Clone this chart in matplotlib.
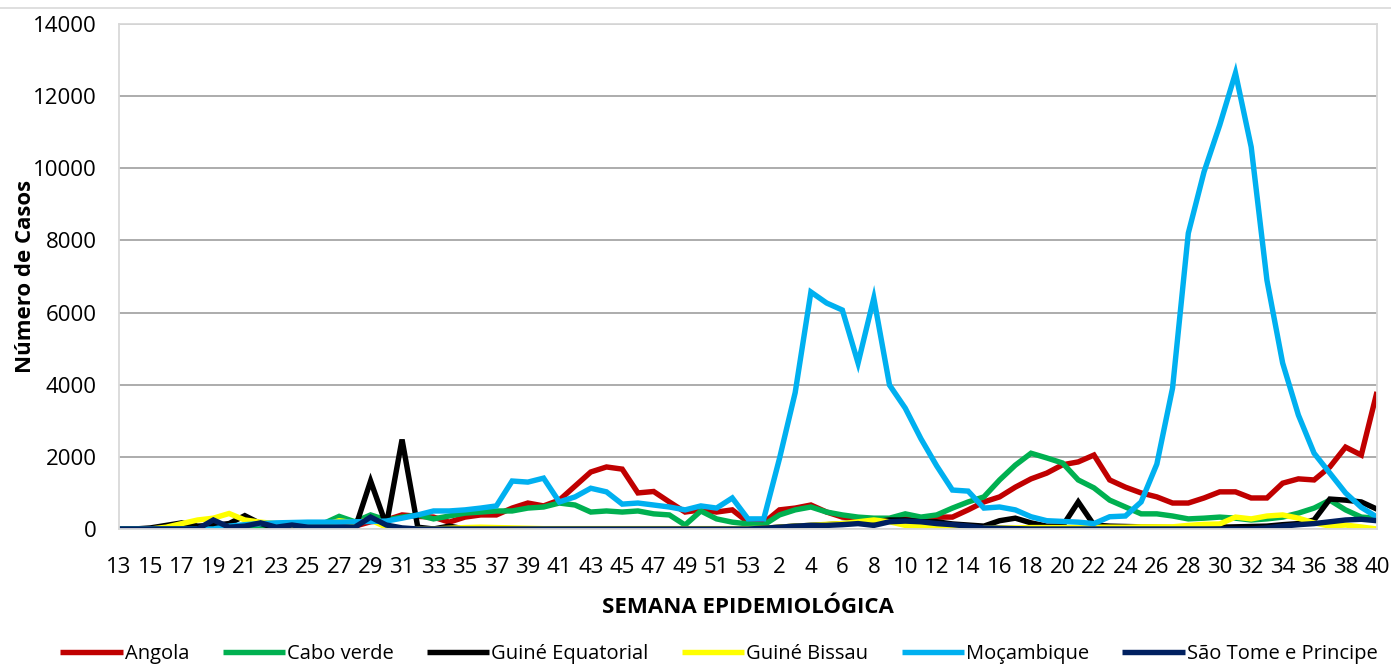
import matplotlib
matplotlib.use("Agg")
import matplotlib.pyplot as plt
from matplotlib.lines import Line2D

plt.rcParams['font.family'] = ['Open Sans', 'DejaVu Sans']

weeks = list(range(13, 54)) + list(range(1, 41))

angola = [0, 0, 0, 0, 0, 0, 0, 0, 0, 0, 0, 0, 0, 20, 50,
          80, 200, 250, 390, 350, 330, 190, 330, 390, 390, 580, 720, 640, 800, 1190,
          1580, 1720, 1660, 1000, 1040, 750, 470, 530, 470, 530, 190, 170, 530, 580, 665,
          470, 330, 300, 280, 280, 280, 280, 330, 330, 530, 750, 890, 1160, 1390, 1550,
          1780, 1860, 2050, 1360, 1160, 1000, 890, 720, 720, 860, 1030, 1030, 860, 860, 1270,
          1390, 1360, 1720, 2270, 2050, 3800]

cabo_verde = [0, 0, 0, 0, 0, 0, 0, 0, 0, 0, 30, 60, 100, 150, 350,
              200, 390, 250, 330, 390, 280, 360, 440, 470, 500, 500, 580, 610, 720, 665,
              470, 500, 470, 500, 420, 390, 110, 500, 280, 190, 140, 110, 390, 530, 610,
              470, 390, 330, 300, 300, 420, 330, 390, 580, 750, 890, 1360, 1770, 2100, 1970,
              1830, 1360, 1140, 800, 610, 420, 420, 360, 280, 300, 330, 300, 250, 280, 330,
              440, 580, 800, 530, 330, 300]

guine_equatorial = [0, 0, 30, 100, 170, 80, 100, 150, 370, 150, 30, 0, 0, 0, 0,
                    0, 1330, 100, 2480, 50, 0, 80, 0, 0, 0, 0, 0, 0, 0, 0,
                    0, 0, 0, 0, 0, 0, 0, 0, 0, 0, 0, 20, 50, 80, 100,
                    120, 150, 180, 200, 250, 250, 200, 200, 140, 110, 80, 230, 300, 170, 80,
                    80, 750, 110, 80, 70, 60, 50, 40, 40, 50, 50, 60, 70, 80, 120,
                    150, 250, 830, 800, 750, 550]

guine_bissau = [0, 0, 0, 50, 150, 250, 300, 430, 250, 190, 150, 100, 50, 100, 230,
                170, 250, 50, 0, 0, 0, 20, 40, 50, 40, 30, 20, 10, 10, 10,
                10, 10, 10, 10, 10, 10, 10, 10, 10, 10, 10, 20, 50, 80, 100,
                130, 150, 200, 250, 200, 100, 80, 50, 40, 30, 30, 30, 30, 40, 40,
                40, 50, 50, 50, 50, 60, 60, 60, 100, 130, 140, 330, 280, 360, 390,
                300, 170, 80, 110, 55, 0]

mocambique = [0, 0, 0, 0, 0, 0, 0, 80, 120, 150, 170, 180, 190, 190, 190,
              200, 210, 220, 300, 390, 500, 500, 530, 580, 640, 1330, 1300, 1410, 750, 890,
              1130, 1030, 690, 720, 665, 610, 530, 640, 580, 860, 280, 280, 1950, 3780, 6570,
              6265, 6070, 4600, 6400, 3990, 3350, 2500, 1750, 1080, 1050, 580, 610, 530, 340, 230,
              210, 190, 150, 340, 360, 750, 1800, 3910, 8200, 9900, 11200, 12640, 10590, 6900, 4600,
              3160, 2100, 1550, 1000, 600, 330]

sao_tome = [0, 0, 0, 0, 0, 0, 250, 50, 80, 170, 50, 110, 50, 50, 50,
            50, 330, 110, 30, 0, 0, 0, 0, 0, 0, 0, 0, 0, 0, 0,
            0, 0, 0, 0, 0, 0, 0, 0, 0, 0, 0, 20, 50, 80, 100,
            100, 120, 150, 100, 200, 220, 200, 150, 120, 80, 30, 20, 10, 0, 0,
            0, 0, 0, 0, 0, 0, 0, 0, 0, 0, 0, 0, 0, 30, 80,
            120, 150, 200, 250, 270, 230]

series = [
    ("Angola", angola, "#C00000"),
    ("Cabo verde", cabo_verde, "#00B050"),
    ("Guiné Equatorial", guine_equatorial, "#000000"),
    ("Guiné Bissau", guine_bissau, "#FFFF00"),
    ("Moçambique", mocambique, "#00B0F0"),
    ("São Tome e Principe", sao_tome, "#002060"),
]

W, H = 1391, 668
fig = plt.figure(figsize=(W / 100, H / 100), dpi=100)
ax = fig.add_axes([119 / W, 1 - 529 / H, (1377 - 119) / W, (529 - 24) / H])

x = list(range(len(weeks)))
for name, vals, col in series:
    ax.plot(x, vals, color=col, lw=3.9, label=name, solid_joinstyle='miter',
            solid_capstyle='butt')

ax.set_xlim(0, len(weeks) - 1)
ax.set_ylim(0, 14000)
ax.set_yticks(range(0, 14001, 2000))
ax.set_xticks(x[::2])
ax.set_xticklabels([str(w) for w in weeks[::2]])
ax.tick_params(axis='both', length=0, labelsize=16, colors='black')
ax.tick_params(axis='x', pad=20)
ax.tick_params(axis='y', pad=16)
ax.yaxis.grid(True, color='#A6A6A6', lw=1.3)
ax.set_axisbelow(True)
for s in ax.spines.values():
    s.set_color('#D9D9D9')
    s.set_linewidth(1.3)

ax.set_ylabel("Número de Casos", fontsize=16, fontweight='bold', labelpad=-2)
ax.set_xlabel("SEMANA EPIDEMIOLÓGICA", fontsize=16, fontweight='bold', labelpad=14)

leg = fig.legend(loc='center', bbox_to_anchor=(719 / W, 1 - 654 / H), ncol=6,
                 frameon=False, fontsize=14.5, handlelength=3.1, handletextpad=0.1,
                 columnspacing=1.65)

fig.add_artist(Line2D([0, 1], [1 - 8 / H, 1 - 8 / H], color='#D9D9D9', lw=1.2,
                      transform=fig.transFigure))

fig.savefig("out.png", dpi=100)
